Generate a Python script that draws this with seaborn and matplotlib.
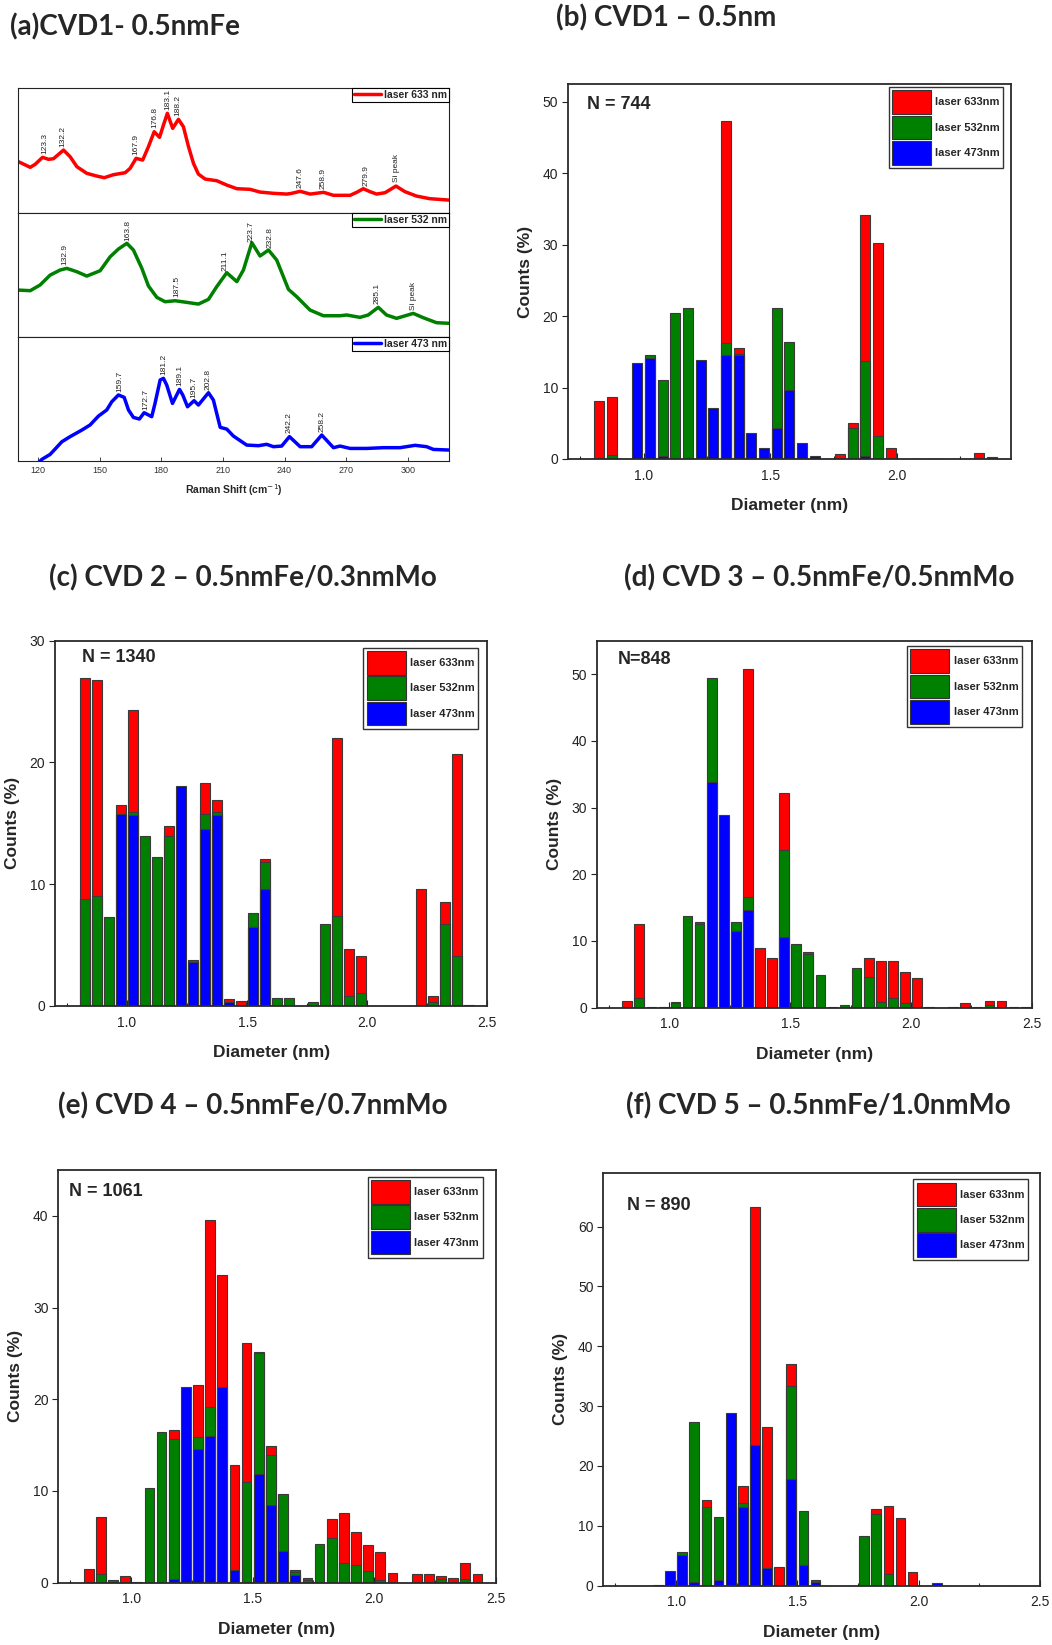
import matplotlib
matplotlib.use("Agg")
import numpy as np
import matplotlib.pyplot as plt
from matplotlib.patches import Patch
from matplotlib.lines import Line2D
from matplotlib.ticker import MultipleLocator, FormatStrFormatter, NullLocator
import seaborn as sns

sns.set_theme(style="ticks")
plt.rcParams["font.family"] = ["Liberation Sans", "DejaVu Sans"]

RED, GREEN, BLUE = "#ff0000", "#008000", "#0000ff"

# ---------------- Raman spectra (normalised intensity per laser line) ----------------
raman_633_shift = [110.6, 116.3, 118.7, 122.3, 125.2, 127.6, 132.5, 135.7, 139.0, 143.8,
                   148.7, 152.3, 156.8, 162.5, 164.9, 167.8, 171.0, 173.8, 176.6, 179.2,
                   181.1, 183.0, 185.6, 188.4, 190.8, 193.3, 195.7, 198.1, 201.4, 207.0,
                   211.9, 216.8, 223.2, 228.1, 234.6, 241.1, 243.5, 247.6, 252.5, 259.0,
                   263.8, 271.9, 275.1, 278.3, 281.6, 284.8, 288.9, 294.2, 298.6, 304.2,
                   310.7, 320.0]
raman_633_int = [0.408, 0.363, 0.387, 0.443, 0.427, 0.432, 0.501, 0.448, 0.368, 0.315,
                 0.293, 0.280, 0.304, 0.320, 0.355, 0.435, 0.421, 0.528, 0.648, 0.603,
                 0.701, 0.795, 0.675, 0.747, 0.688, 0.528, 0.395, 0.309, 0.269, 0.256,
                 0.221, 0.192, 0.187, 0.165, 0.155, 0.149, 0.155, 0.171, 0.149, 0.163,
                 0.139, 0.139, 0.163, 0.192, 0.168, 0.149, 0.160, 0.213, 0.168, 0.133,
                 0.112, 0.101]
raman_633_peaks = ["123.3", "132.2", "167.9", "176.8", "183.1", "188.2", "247.6", "258.9", "279.9", "Si peak"]
raman_633_peak_pos = [123.3, 132.2, 167.9, 176.8, 183.1, 188.2, 247.6, 258.9, 279.9, 294.3]

raman_532_shift = [110.6, 116.3, 121.1, 126.0, 130.9, 134.1, 139.0, 143.8, 150.3, 155.2,
                   159.2, 163.3, 166.5, 170.6, 173.8, 177.9, 181.9, 186.8, 192.4, 198.1,
                   203.0, 207.0, 211.9, 216.8, 220.0, 224.1, 228.1, 232.2, 236.2, 241.9,
                   245.9, 252.4, 258.9, 267.0, 270.2, 276.7, 280.7, 285.6, 289.6, 294.5,
                   302.6, 307.5, 313.9, 320.0]
raman_532_int = [0.376, 0.371, 0.417, 0.497, 0.538, 0.551, 0.524, 0.489, 0.532, 0.645,
                 0.707, 0.753, 0.699, 0.551, 0.409, 0.317, 0.282, 0.290, 0.277, 0.263,
                 0.301, 0.403, 0.516, 0.444, 0.538, 0.758, 0.651, 0.699, 0.618, 0.382,
                 0.323, 0.215, 0.169, 0.169, 0.175, 0.156, 0.175, 0.237, 0.175, 0.148,
                 0.188, 0.153, 0.113, 0.108]
raman_532_peaks = ["132.9", "163.8", "187.5", "211.1", "223.7", "232.8", "285.1", "Si peak"]
raman_532_peak_pos = [132.9, 163.8, 187.5, 211.1, 223.7, 232.8, 285.1, 302.6]

raman_473_shift = [120.0, 122.0, 126.0, 131.7, 135.7, 141.4, 145.4, 149.5, 153.5, 156.0,
                   159.2, 162.0, 164.1, 166.5, 169.4, 171.7, 175.4, 177.0, 179.5, 181.1,
                   182.7, 185.5, 188.9, 190.5, 192.8, 196.0, 198.1, 203.0, 205.4, 208.7,
                   211.9, 215.1, 221.6, 227.3, 231.3, 234.6, 238.6, 242.4, 247.6, 253.2,
                   258.1, 263.8, 267.0, 271.9, 280.0, 288.1, 296.2, 303.5, 309.1, 312.4,
                   320.0]
raman_473_int = [-0.020, 0.011, 0.051, 0.153, 0.194, 0.247, 0.288, 0.360, 0.409, 0.476,
                 0.530, 0.511, 0.409, 0.349, 0.336, 0.387, 0.355, 0.462, 0.651, 0.664,
                 0.610, 0.462, 0.575, 0.530, 0.435, 0.484, 0.449, 0.548, 0.489, 0.269,
                 0.255, 0.199, 0.126, 0.121, 0.132, 0.113, 0.118, 0.194, 0.113, 0.113,
                 0.207, 0.105, 0.118, 0.099, 0.099, 0.105, 0.105, 0.124, 0.113, 0.091,
                 0.086]
raman_473_peaks = ["159.7", "172.7", "181.2", "189.1", "195.7", "202.8", "242.2", "258.2"]
raman_473_peak_pos = [159.7, 172.7, 181.2, 189.1, 195.7, 202.8, 242.2, 258.2]

# ---------------- Diameter histograms (bin centres in nm, counts in %) ----------------
bin_centers = [0.825, 0.875, 0.925, 0.975, 1.025, 1.075, 1.125, 1.175, 1.225, 1.275,
               1.325, 1.375, 1.425, 1.475, 1.525, 1.575, 1.625, 1.675, 1.725, 1.775,
               1.825, 1.875, 1.925, 1.975, 2.025, 2.075, 2.125, 2.175, 2.225, 2.275,
               2.325, 2.375, 2.425, 2.475]

# CVD1 - 0.5 nm Fe
b_633 = [8.1, 8.7, 0, 0, 0, 0, 0, 0, 0, 0, 47.3, 15.6, 0, 0, 0, 0, 0, 0, 0, 0.75,
         5.1, 34.2, 30.2, 1.6, 0, 0, 0, 0, 0, 0, 0.8, 0, 0, 0]
b_532 = [0, 0.5, 0, 0, 14.6, 11.1, 20.4, 21.2, 0, 0, 16.2, 14.7, 0, 0, 21.2, 16.4, 0, 0, 0, 0,
         4.3, 13.7, 3.2, 0, 0, 0, 0, 0, 0, 0, 0, 0.3, 0, 0]
b_473 = [0, 0, 0, 13.4, 14.2, 0.4, 0, 0, 13.8, 7.1, 14.6, 14.5, 3.7, 1.5, 4.4, 9.6, 2.3, 0.4, 0, 0,
         0, 0.4, 0, 0, 0, 0, 0, 0, 0, 0, 0, 0, 0, 0]

# CVD2 - 0.5 nm Fe / 0.3 nm Mo
c_633 = [26.9, 26.8, 0, 16.5, 24.3, 0, 0, 14.8, 0, 0, 18.3, 16.9, 0.6, 0.4, 0, 12.05, 0, 0, 0, 0,
         0, 22.0, 4.65, 4.1, 0, 0, 0, 0, 9.6, 0.8, 8.5, 20.7, 0, 0]
c_532 = [8.8, 9.0, 7.3, 0, 15.9, 14.0, 12.2, 14.0, 0, 3.75, 15.8, 15.9, 0, 0, 7.6, 11.8, 0.65, 0.65, 0, 0.3,
         6.7, 7.4, 0.8, 1.1, 0, 0, 0, 0, 0, 0.3, 6.7, 4.1, 0.1, 0]
c_473 = [0, 0, 0, 15.8, 15.7, 0, 0, 0, 18.1, 3.6, 14.5, 15.7, 0.35, 0, 6.5, 9.6, 0, 0, 0, 0,
         0, 0, 0, 0, 0, 0, 0, 0, 0, 0, 0, 0, 0, 0]

# CVD3 - 0.5 nm Fe / 0.5 nm Mo
d_633 = [1.05, 12.6, 0, 0, 0.9, 0, 12.8, 0, 0, 0, 50.7, 9.0, 7.4, 32.2, 0, 8.3, 0, 0, 0, 0,
         7.5, 7.0, 7.0, 5.3, 4.5, 0, 0, 0, 0.75, 0, 1.05, 1.05, 0, 0]
d_532 = [0.15, 1.4, 0.1, 0.1, 0.65, 13.8, 12.5, 49.4, 0, 12.8, 16.6, 0, 0.15, 23.6, 9.6, 8.0, 4.85, 0.1, 0.35, 5.9,
         4.55, 0.9, 1.4, 0.65, 0, 0.1, 0, 0.1, 0, 0.1, 0.35, 0, 0.1, 0.1]
d_473 = [0, 0, 0, 0, 0, 0, 0, 33.8, 28.9, 11.5, 14.7, 0, 0, 10.6, 0, 0, 0, 0, 0, 0,
         0, 0, 0, 0, 0, 0, 0, 0, 0, 0, 0, 0, 0, 0]

# CVD4 - 0.5 nm Fe / 0.7 nm Mo
e_633 = [1.5, 7.15, 0, 0.7, 0, 0, 0, 16.7, 0, 21.6, 39.6, 33.6, 12.85, 26.1, 25.2, 14.9, 0, 1.4, 0.5, 0,
         7.0, 7.6, 5.5, 4.1, 3.3, 1.1, 0, 0.9, 0.9, 0.7, 0.55, 2.2, 0.9, 0]
e_532 = [0, 0.9, 0.33, 0, 0.1, 10.35, 16.4, 15.7, 0, 15.9, 19.2, 0, 0, 11.0, 25.0, 13.9, 9.7, 1.15, 0.3, 4.2,
         4.9, 2.2, 1.9, 1.3, 0.3, 0, 0, 0, 0, 0.35, 0, 0.35, 0, 0]
e_473 = [0, 0, 0, 0, 0, 0, 0, 0.4, 21.3, 14.6, 16.0, 21.3, 1.4, 0, 11.9, 8.5, 3.5, 0.8, 0, 0,
         0, 0, 0, 0, 0, 0, 0, 0, 0, 0, 0, 0, 0, 0]

# CVD5 - 0.5 nm Fe / 1.0 nm Mo
f_633 = [0, 0, 0, 0, 0, 0, 14.4, 0, 0, 16.7, 63.2, 26.5, 3.2, 37.1, 0, 0, 0, 0, 0, 0,
         12.85, 13.25, 11.35, 2.35, 0, 0, 0, 0, 0, 0, 0, 0, 0, 0]
f_532 = [0, 0, 0.1, 0, 5.7, 27.4, 13.1, 11.45, 0, 13.9, 0, 0, 0, 33.4, 12.5, 1.0, 0, 0, 0, 8.3,
         12.0, 2.0, 0, 0, 0, 0, 0, 0, 0, 0, 0, 0, 0, 0]
f_473 = [0, 0, 0, 2.5, 5.05, 0.55, 0, 1.0, 28.9, 13.1, 23.5, 3.0, 0, 17.75, 3.5, 0.55, 0, 0, 0, 0,
         0, 0, 0, 0, 0, 0.5, 0, 0, 0, 0, 0, 0, 0, 0]

laser_labels = ["laser 633nm", "laser 532nm", "laser 473nm"]

W, H = 1052, 1645
fig = plt.figure(figsize=(W / 100, H / 100), dpi=100)
fig.patch.set_facecolor("white")


def px_rect(x0, y0, x1, y1):
    """Axes rectangle from pixel corners (top-left origin)."""
    return [x0 / W, 1 - y1 / H, (x1 - x0) / W, (y1 - y0) / H]


# ---------------- (a) stacked Raman spectra ----------------
raman_sets = [
    (raman_633_shift, raman_633_int, raman_633_peaks, raman_633_peak_pos, RED, "laser 633 nm"),
    (raman_532_shift, raman_532_int, raman_532_peaks, raman_532_peak_pos, GREEN, "laser 532 nm"),
    (raman_473_shift, raman_473_int, raman_473_peaks, raman_473_peak_pos, BLUE, "laser 473 nm"),
]
raman_edges = [87.7, 212.7, 336.7, 460.7]
for i, (shift, inten, plabels, ppos, col, lab) in enumerate(raman_sets):
    ax = fig.add_axes(px_rect(18.3, raman_edges[i], 449, raman_edges[i + 1]))
    sns.lineplot(x=shift, y=inten, ax=ax, color=col, linewidth=2.5, sort=True)
    ax.set_xlim(110.5, 320)
    ax.set_ylim(0, 1)
    ax.yaxis.set_major_locator(NullLocator())
    ax.set_ylabel("")
    for sp in ax.spines.values():
        sp.set_linewidth(0.8)
        sp.set_color("#222222")
    for txt, p in zip(plabels, ppos):
        yv = np.interp(p, shift, inten) + 0.03
        ax.text(p, yv, txt, rotation=90, ha="center", va="bottom", fontsize=6,
                color="#222222", clip_on=True)
    leg = ax.legend(handles=[Line2D([0], [0], color=col, lw=2.5)], labels=[lab],
                    loc="upper right", borderaxespad=0, frameon=True, fancybox=False,
                    edgecolor="black", framealpha=1, handlelength=2.6, handletextpad=0.3,
                    borderpad=0.2, prop={"size": 7.5, "weight": "bold"})
    leg.get_frame().set_linewidth(0.8)
    if i < 2:
        ax.xaxis.set_major_locator(NullLocator())
        ax.set_xlabel("")
    else:
        ax.xaxis.set_major_locator(MultipleLocator(30))
        ax.tick_params(axis="x", direction="in", length=3, width=0.6, labelsize=6.5,
                       labelcolor="#333333", pad=4)
        ax.set_xlabel("Raman Shift (cm$^{-1}$)", fontsize=7.5, fontweight="bold", labelpad=5)

fig.text(-0.004, 1 - 275 / H, "Intensity (a.u.)", rotation=90, ha="center", va="center",
         fontsize=8, fontweight="bold")


# ---------------- (b)-(f) diameter histograms ----------------
def histogram_panel(rect, red, green, blue, n_label, n_xy, ymax, ystep, xmax, leg_anchor):
    ax = fig.add_axes(rect)
    for vals, col in ((red, RED), (green, GREEN), (blue, BLUE)):
        sns.barplot(x=bin_centers, y=vals, native_scale=True, width=0.8, color=col,
                    saturation=1, edgecolor="#3a3a3a", linewidth=0.8, errorbar=None, ax=ax)
    ax.set_xlim(0.7, xmax)
    ax.set_ylim(0, ymax)
    ax.xaxis.set_major_locator(MultipleLocator(0.5))
    ax.xaxis.set_minor_locator(MultipleLocator(0.25))
    ax.xaxis.set_major_formatter(FormatStrFormatter("%.1f"))
    ax.yaxis.set_major_locator(MultipleLocator(ystep))
    ax.tick_params(axis="x", which="major", direction="in", length=4, width=0.8,
                   labelsize=10, pad=7, colors="#222222")
    ax.tick_params(axis="x", which="minor", direction="in", length=2.5, width=0.8)
    ax.tick_params(axis="y", direction="out", length=4, width=0.8, labelsize=10, pad=3,
                   colors="#222222")
    for sp in ax.spines.values():
        sp.set_linewidth(1.3)
        sp.set_color("#2a2a2a")
    ax.set_xlabel("Diameter (nm)", fontsize=12.5, fontweight="bold", labelpad=11)
    ax.set_ylabel("Counts (%)", fontsize=12.5, fontweight="bold", labelpad=7)
    ax.text(n_xy[0], n_xy[1], n_label, transform=ax.transAxes, ha="left", va="top",
            fontsize=13, fontweight="bold")
    handles = [Patch(facecolor=c, edgecolor="#333333", linewidth=0.8) for c in (RED, GREEN, BLUE)]
    leg = ax.legend(handles=handles, labels=laser_labels, loc="upper right",
                    bbox_to_anchor=leg_anchor, borderaxespad=0, frameon=True, fancybox=False,
                    edgecolor="#333333", framealpha=1, handlelength=3.5, handleheight=2.9,
                    labelspacing=0.15, handletextpad=0.4, borderpad=0.3,
                    prop={"size": 8, "weight": "bold"})
    leg.get_frame().set_linewidth(1.0)
    return ax


histogram_panel(px_rect(567.7, 84, 1011, 459), b_633, b_532, b_473, "N = 744",
                (0.044, 0.968), 52.5, 10, 2.45, (0.983, 0.992))
histogram_panel(px_rect(55, 640.7, 487.3, 1006), c_633, c_532, c_473, "N = 1340",
                (0.062, 0.978), 30, 10, 2.5, (0.979, 0.981))
histogram_panel(px_rect(597, 640.7, 1031.7, 1007.7), d_633, d_532, d_473, "N=848",
                (0.048, 0.973), 55, 10, 2.5, (0.977, 0.986))
histogram_panel(px_rect(58.3, 1170, 495.7, 1582.7), e_633, e_532, e_473, "N = 1061",
                (0.025, 0.969), 45, 10, 2.5, (0.970, 0.984))
histogram_panel(px_rect(603.3, 1172.7, 1040, 1585.7), f_633, f_532, f_473, "N = 890",
                (0.055, 0.941), 69, 10, 2.5, (0.973, 0.984))

# ---------------- panel titles ----------------
title_font = dict(fontsize=20, fontweight="bold", family=["Lato", "DejaVu Sans"], ha="left", va="top")
titles = [
    ("(a)CVD1- 0.5nmFe", 10.5, 13),
    ("(b) CVD1 \u2013 0.5nm", 556, 4),
    ("(c) CVD 2 \u2013 0.5nmFe/0.3nmMo", 49, 564),
    ("(d) CVD 3 \u2013 0.5nmFe/0.5nmMo", 624, 564),
    ("(e) CVD 4 \u2013 0.5nmFe/0.7nmMo", 58, 1092),
    ("(f) CVD 5 \u2013 0.5nmFe/1.0nmMo", 626, 1092),
]
for txt, x, y in titles:
    fig.text(x / W, 1 - y / H, txt, **title_font)

fig.savefig("out.png", dpi=100, facecolor="white")
